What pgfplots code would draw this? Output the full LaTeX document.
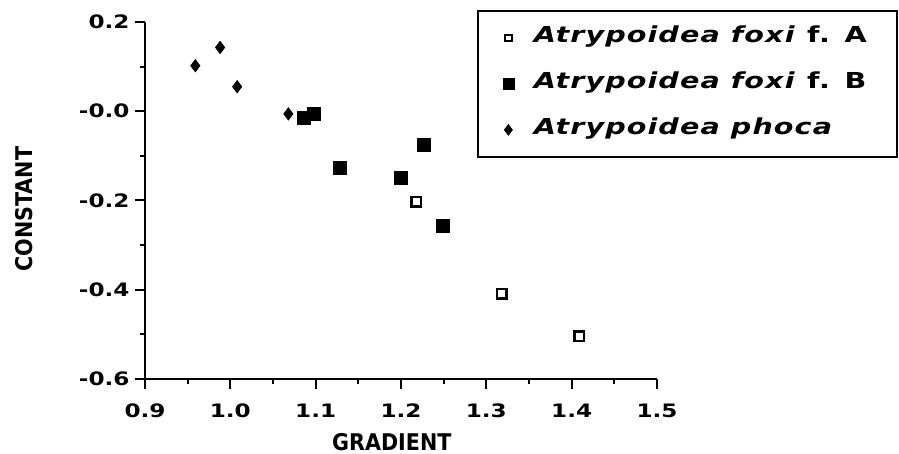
\documentclass[border=0pt]{standalone}
\usepackage{fontspec}
\setmainfont{DejaVu Sans}
\newfontfamily\tickfont{DejaVu Sans}[FakeStretch=1.25]
\newfontfamily\labfont{DejaVu Sans}[FakeStretch=0.9]
\newfontfamily\legfont{DejaVu Sans}[FakeStretch=1.3,LetterSpace=5]
\usepackage{pgfplots}
\pgfplotsset{compat=1.18}
\begin{document}
\begin{tikzpicture}
\useasboundingbox (-145bp,-75bp) rectangle (754bp,379bp);
\begin{axis}[
  scale only axis,
  width=512bp, height=357bp,
  at={(0,0)}, anchor=south west,
  xmin=0.9, xmax=1.5, ymin=-0.6, ymax=0.2,
  axis x line=bottom, axis y line=left,
  axis line style={-, line width=2.2bp},
  tick align=outside,
  major tick length=10bp, minor tick length=5bp,
  major tick style={line width=2bp, black},
  minor tick style={line width=1.8bp, black},
  xtick={0.9,1.0,1.1,1.2,1.3,1.4,1.5},
  xticklabels={0.9,1.0,1.1,1.2,1.3,1.4,1.5},
  minor xtick={0.95,1.05,1.15,1.25,1.35,1.45},
  ytick={-0.6,-0.4,-0.2,0,0.2},
  yticklabels={-0.6,-0.4,-0.2,-0.0,0.2},
  minor ytick={-0.5,-0.3,-0.1,0.1},
  tick label style={font=\tickfont\bfseries\fontsize{18.5bp}{18.5bp}\selectfont},
  xticklabel style={yshift=-11bp},
  yticklabel style={xshift=-2bp},
  xlabel={GRADIENT}, ylabel={CONSTANT},
  label style={font=\labfont\bfseries\fontsize{23bp}{23bp}\selectfont, inner sep=1bp},
  xlabel style={at={(axis description cs:0.482,-0.199)}, anchor=base},
  ylabel style={at={(axis description cs:-0.21875,0.476)}, anchor=base, rotate=0},
  legend cell align=left,
  legend image code/.code={\draw[#1] plot coordinates {(0bp,0bp)};},
  legend style={draw=black, line width=1.8bp, at={(0.6484,1.0336)}, anchor=north west,
    inner xsep=25bp, inner ysep=4bp, row sep=0pt, column sep=20bp,
    nodes={inner xsep=0pt, inner ysep=0pt, text height=28bp, text depth=18bp},
    font=\legfont\bfseries\fontsize{22bp}{22bp}\selectfont},
  clip=false,
]
\addplot[only marks, mark=square, mark size=4.7bp, mark options={line width=2.4bp, fill=white, draw=black},
  legend image post style={mark size=3.3bp, mark options={line width=2.2bp}}]
  coordinates {(1.218,-0.203) (1.318,-0.409) (1.409,-0.504)};
\addlegendentry{\makebox[338bp][l]{\textit{Atrypoidea foxi} f. A}}
\addplot[only marks, mark=square*, mark size=6.5bp, mark options={line width=0.5bp, fill=black, draw=black},
  legend image post style={mark size=5.5bp}]
  coordinates {(1.086,-0.015) (1.098,-0.005) (1.128,-0.127) (1.200,-0.148) (1.227,-0.075) (1.249,-0.256)};
\addlegendentry{\makebox[338bp][l]{\textit{Atrypoidea foxi} f. B}}
\addplot[only marks, mark=diamond*, mark size=6.3bp, mark options={line width=0.5bp, fill=black, draw=black},
  legend image post style={mark size=5.5bp}]
  coordinates {(0.959,0.102) (0.988,0.143) (1.008,0.055) (1.068,-0.006)};
\addlegendentry{\makebox[338bp][l]{\textit{Atrypoidea phoca}}}
\end{axis}
\end{tikzpicture}
\end{document}
